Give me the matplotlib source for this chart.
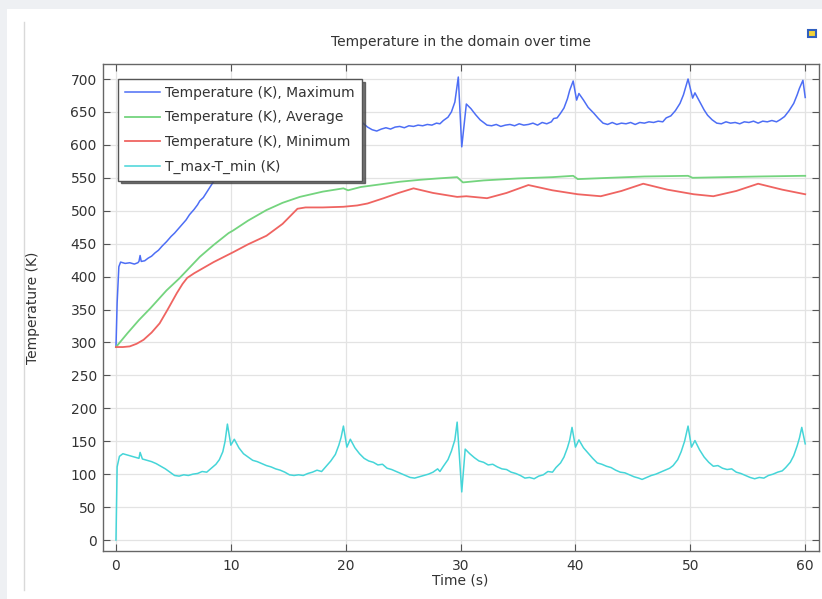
import matplotlib
matplotlib.use("Agg")
import matplotlib.pyplot as plt
from matplotlib.patches import Rectangle
from matplotlib.lines import Line2D

# ---------------- data ----------------
t_max = [0, 0.1, 0.25, 0.4, 0.8, 1.2, 1.6, 1.9, 2.0, 2.1, 2.2, 2.5, 2.8, 3.1, 3.4, 3.7,
         4.0, 4.4, 4.8, 5.1, 5.4, 5.8, 6.1, 6.4, 6.8, 7.1, 7.3, 7.6, 8.0, 8.3, 8.6, 9.0,
         9.4, 9.7, 10.0, 10.3, 11.0, 11.8, 13.0, 14.0, 15.0, 16.0, 17.0, 18.0, 18.6,
         19.2, 19.6, 19.8, 20.1, 20.4, 21.0,
         21.5, 21.9, 22.3, 22.7, 23.1, 23.5, 23.9, 24.3, 24.7, 25.1, 25.5, 25.9, 26.3,
         26.7, 27.1, 27.5, 27.9, 28.2, 28.5, 28.9, 29.2, 29.5, 29.8, 30.1, 30.5, 30.9,
         31.3, 31.7, 32.0, 32.3, 32.7, 33.1, 33.5, 33.9, 34.3, 34.7, 35.1, 35.5, 35.9,
         36.3, 36.7, 37.1, 37.5, 37.9, 38.1, 38.4, 38.7, 39.0, 39.3, 39.5, 39.8, 40.1,
         40.3, 40.7, 41.1, 41.6, 42.0, 42.4, 42.8, 43.2, 43.6, 44.0, 44.4, 44.8, 45.2,
         45.6, 46.0, 46.4, 46.8, 47.2, 47.6, 47.9, 48.3, 48.7, 49.1, 49.4, 49.6, 49.8,
         50.2, 50.4, 50.8, 51.2, 51.5, 51.9, 52.3, 52.7, 53.1, 53.5, 53.9, 54.3, 54.7,
         55.1, 55.5, 55.9, 56.3, 56.7, 57.1, 57.5, 57.8, 58.2, 58.6, 59.0, 59.3, 59.5,
         59.8, 60.0]
v_max = [293, 360, 415, 422, 420, 421, 419, 421, 423, 432, 423, 424, 428, 431, 436, 440,
         446, 453, 461, 466, 472, 480, 486, 494, 502, 509, 515, 520, 531, 539, 547, 560,
         585, 613, 582, 593, 582, 574, 573, 579, 587, 596, 607, 620, 630,
         645, 665, 679, 647, 660, 640,
         633, 627, 623, 621, 624, 626, 624, 627, 628, 626, 629, 628, 630,
         629, 631, 630, 633, 632, 637, 642, 650, 665, 703, 597, 662, 655,
         646, 638, 634, 630, 629, 631, 628, 630, 631, 629, 632, 630, 631,
         633, 630, 634, 632, 635, 640, 641, 648, 656, 670, 683, 697, 668,
         678, 668, 657, 648, 640, 633, 631, 634, 631, 633, 632, 634, 631,
         634, 633, 635, 634, 636, 635, 641, 644, 652, 663, 676, 688, 700,
         671, 679, 666, 653, 645, 638, 633, 632, 635, 633, 634, 632, 635,
         634, 636, 633, 636, 635, 637, 635, 638, 643, 652, 663, 676, 686,
         698, 672]

t_avg = [0, 1, 2, 3, 4.4, 5.5, 7.3, 8.5, 9.8, 10.2, 11.5, 13.1, 14.5, 16, 18, 19.8,
         20.2, 21.3, 23, 24.7, 26.5, 28, 29.7, 30.2, 32, 35, 38, 39.8, 40.2, 43, 46,
         49.8, 50.2, 53, 56, 59.8, 60]
v_avg = [293, 314, 334, 352, 379, 397, 430, 448, 466, 470, 485, 501, 512, 521, 529, 534,
         531, 536, 540, 544, 547, 549, 551, 543, 546, 549, 551, 553, 548, 550, 552,
         553, 550, 551, 552, 553, 553]

t_min = [0, 0.6, 1.2, 1.8, 2.4, 3.1, 3.8, 4.5, 5.3, 5.8, 6.2, 6.8, 7.3, 8.5, 10.2, 11.5,
         13.1, 14.5, 15.8, 16.5, 18, 19.8, 21, 21.9, 23.3, 24.6, 25.9, 27.6, 29.7, 30.5,
         32.3, 34, 35.9, 38, 40.2, 42.2, 44, 45.9, 48, 50.3, 52, 54, 55.9, 58, 60]
v_min = [293, 293, 294, 298, 304, 315, 329, 350, 375, 389, 398, 405, 410, 422, 437, 449,
         462, 480, 503, 505, 505, 506, 508, 511, 519, 527, 534, 527, 521, 522,
         519, 527, 539, 531, 525, 522, 530, 541, 532, 525, 522, 530, 541, 532, 525]

t_diff = [0, 0.1, 0.3, 0.6, 1.0, 1.4, 1.8, 2.0, 2.1, 2.3, 2.7, 3.1, 3.5, 3.9, 4.3, 4.7,
          5.1, 5.5, 5.9, 6.3, 6.7, 7.1, 7.5, 7.9, 8.3, 8.7, 9.0, 9.3, 9.5, 9.7,
          10.0, 10.3, 10.7, 11.1, 11.5, 11.9, 12.3, 12.7, 13.1, 13.5, 13.9, 14.3, 14.7,
          15.1, 15.5, 15.9, 16.3, 16.7, 17.1, 17.5, 17.9, 18.3, 18.7, 19.1, 19.4, 19.6,
          19.8, 20.1, 20.4, 20.8, 21.2, 21.6, 22.0, 22.4, 22.8, 23.2, 23.6, 24.0, 24.4,
          24.8, 25.2, 25.6, 26.0, 26.4, 26.8, 27.2, 27.6, 28.0, 28.2, 28.5, 28.9, 29.2,
          29.5, 29.7, 30.1, 30.4, 30.8, 31.2, 31.6, 32.0, 32.4, 32.8, 33.2, 33.6, 34.0,
          34.4, 34.8, 35.2, 35.6, 36.0, 36.4, 36.8, 37.2, 37.6, 38.0, 38.3, 38.7, 39.0,
          39.3, 39.5, 39.7, 40.0, 40.3, 40.7, 41.1, 41.5, 41.9, 42.3, 42.7, 43.1, 43.5,
          43.9, 44.3, 44.7, 45.1, 45.5, 45.8, 46.2, 46.6, 47.0, 47.4, 47.8, 48.2, 48.5,
          48.9, 49.2, 49.5, 49.8, 50.1, 50.4, 50.8, 51.2, 51.6, 52.0, 52.4, 52.8, 53.2,
          53.6, 54.0, 54.4, 54.8, 55.2, 55.6, 56.0, 56.4, 56.8, 57.2, 57.6, 58.0, 58.3,
          58.7, 59.0, 59.3, 59.5, 59.7, 60.0]
v_diff = [0, 111, 127, 131, 129, 127, 125, 124, 133, 123, 121, 119, 116, 112, 108, 103,
          98, 97, 99, 98, 100, 101, 104, 103, 109, 115, 122, 134, 150, 176,
          144, 153, 140, 131, 126, 121, 119, 116, 113, 111, 108, 106, 103,
          99, 98, 99, 98, 101, 103, 106, 104, 112, 120, 130, 144, 156,
          173, 141, 153, 140, 131, 124, 120, 118, 114, 115, 109, 107, 104,
          101, 98, 95, 94, 96, 98, 100, 103, 108, 104, 112, 122, 135,
          152, 179, 73, 138, 131, 125, 120, 118, 114, 115, 111, 108, 107,
          103, 101, 98, 94, 95, 93, 97, 99, 104, 103, 110, 117, 126,
          140, 152, 171, 141, 152, 140, 132, 124, 117, 115, 112, 110, 106,
          103, 102, 99, 96, 94, 92, 95, 98, 100, 103, 106, 109, 113,
          122, 134, 150, 173, 141, 151, 137, 126, 118, 112, 113, 109, 107,
          108, 103, 101, 98, 95, 93, 95, 94, 98, 100, 103, 105, 110,
          118, 128, 143, 155, 171, 146]

series_labels = ["Temperature (K), Maximum", "Temperature (K), Average",
                 "Temperature (K), Minimum", "T_max-T_min (K)"]
x_ticks = [0, 10, 20, 30, 40, 50, 60]
y_ticks = list(range(0, 701, 50))

# ---------------- figure ----------------
W, H = 822, 599
FS = 10
fig = plt.figure(figsize=(W / 100, H / 100), dpi=100, facecolor="#eef0f3")

# white panel + thin vertical rule (drawn underneath the axes)
fig.patches.append(Rectangle((7 / W, 0), 1 - 7 / W, 1 - 9 / H, transform=fig.transFigure,
                             facecolor="white", edgecolor="none", zorder=-10))
fig.lines.append(Line2D([24 / W, 24 / W], [1 - 590 / H, 1 - 22 / H], transform=fig.transFigure,
                        color="#d9d9d9", lw=1.0, zorder=-5))
# small icon top-right
fig.patches.append(Rectangle((808 / W, 1 - 37 / H), 8 / W, 7 / H, transform=fig.transFigure,
                             facecolor="#f2d23a", edgecolor="#2f5fbf", lw=1.5, zorder=-5))

left, right, bottom, top = 103 / W, 819 / W, 1 - 551 / H, 1 - 64 / H
ax = fig.add_axes([left, bottom, right - left, top - bottom])
ax.set_zorder(1)

colors = ["#4d6ef5", "#74d47e", "#ef6461", "#45d5d8"]
ax.plot(t_max, v_max, color=colors[0], lw=1.1, label=series_labels[0])
ax.plot(t_avg, v_avg, color=colors[1], lw=1.3, label=series_labels[1])
ax.plot(t_min, v_min, color=colors[2], lw=1.3, label=series_labels[2])
ax.plot(t_diff, v_diff, color=colors[3], lw=1.1, label=series_labels[3])

ax.set_xlim(-1.13, 61.2)
ax.set_ylim(-16.7, 722.8)
ax.set_xticks(x_ticks)
ax.set_yticks(y_ticks)
ax.grid(True, color="#e3e3e3", lw=0.9)
ax.set_axisbelow(True)
ax.tick_params(direction="in", length=5, width=0.8, color="#555555",
               labelsize=FS, labelcolor="#333333", top=True, right=True)
ax.tick_params(axis="y", pad=4.5)
ax.tick_params(axis="x", pad=5.5)
for s in ax.spines.values():
    s.set_color("#666666")
    s.set_linewidth(1.0)

fig.text((103 + 819) / 2 / W, 1 - 42 / H, "Temperature in the domain over time",
         ha="center", va="center", fontsize=FS, color="#333333")
fig.text(33 / W, 1 - 308 / H, "Temperature (K)", rotation=90, ha="center", va="center",
         fontsize=FS, color="#333333")
fig.text(460 / W, 1 - 580 / H, "Time (s)", ha="center", va="center", fontsize=FS,
         color="#333333")

leg = ax.legend(loc="upper left", bbox_to_anchor=((118 - 103) / 716, (551 - 79) / 487),
                borderaxespad=0, fontsize=FS, frameon=True, fancybox=False,
                shadow={"color": "#444444", "alpha": 0.75},
                framealpha=1, edgecolor="#555555", handlelength=2.5, labelspacing=0.76,
                borderpad=0.5, handletextpad=0.4)
for txt in leg.get_texts():
    txt.set_color("#333333")
leg.get_frame().set_linewidth(1.0)

fig.savefig("out.png", dpi=100, facecolor=fig.get_facecolor())
